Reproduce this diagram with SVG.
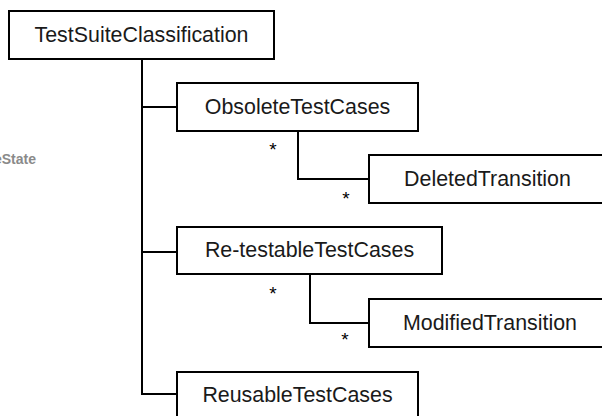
<svg xmlns="http://www.w3.org/2000/svg" width="602" height="416" viewBox="0 0 602 416">
<style>
.box{fill:#fff;stroke:#000;stroke-width:2}
.lbl{font-family:"Liberation Sans",Arial,sans-serif;font-size:21.4px;fill:#1a1a1a;text-anchor:middle}
.mult{font-family:"Liberation Sans",Arial,sans-serif;font-size:19px;fill:#000;text-anchor:middle}
.conn{fill:none;stroke:#000;stroke-width:2}
.ghost{font-family:"Liberation Sans",Arial,sans-serif;font-size:14px;font-weight:bold;fill:#8a8a8a}
</style>
<rect width="602" height="416" fill="#fff"/>
<text class="ghost" x="-6" y="164">eState</text>
<g id="connectors">
<path class="conn" d="M142 59 V394 H177"/>
<path class="conn" d="M142 107 H177"/>
<path class="conn" d="M142 252 H177"/>
<path class="conn" d="M298 131 V179 H369"/>
<path class="conn" d="M310 274 V323 H369"/>
<text class="mult" x="273" y="156">*</text>
<text class="mult" x="346" y="205">*</text>
<text class="mult" x="273" y="300">*</text>
<text class="mult" x="345" y="346">*</text>
</g>
<g id="TestSuiteClassification">
<rect class="box" x="9" y="11" width="265" height="48"/>
<text class="lbl" x="141.5" y="42">TestSuiteClassification</text>
</g>
<g id="ObsoleteTestCases">
<rect class="box" x="177" y="83" width="241" height="48"/>
<text class="lbl" x="297.5" y="114">ObsoleteTestCases</text>
</g>
<g id="DeletedTransition">
<rect class="box" x="369" y="155" width="237" height="48"/>
<text class="lbl" x="487.5" y="186">DeletedTransition</text>
</g>
<g id="RetestableTestCases">
<rect class="box" x="177" y="227" width="265" height="47"/>
<text class="lbl" x="309.5" y="257">Re-testableTestCases</text>
</g>
<g id="ModifiedTransition">
<rect class="box" x="369" y="299" width="242" height="48"/>
<text class="lbl" x="490" y="330">ModifiedTransition</text>
</g>
<g id="ReusableTestCases">
<rect class="box" x="177" y="372" width="241" height="48"/>
<text class="lbl" x="297.5" y="402">ReusableTestCases</text>
</g>
</svg>
